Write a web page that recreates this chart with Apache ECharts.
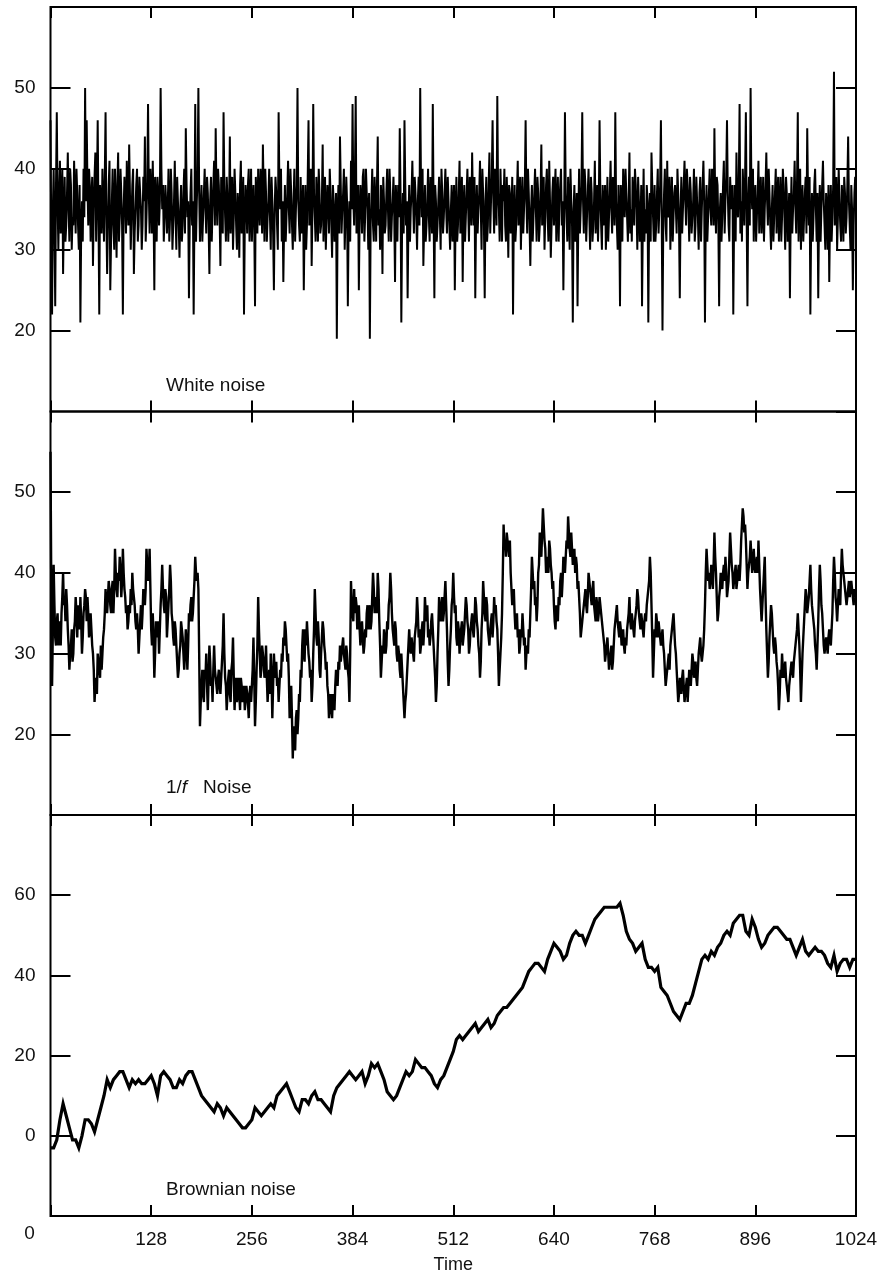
<!DOCTYPE html>
<html>
<head>
<meta charset="utf-8">
<script src="https://cdn.jsdelivr.net/npm/echarts/dist/echarts.min.js"></script>
<style>
  html, body { margin: 0; padding: 0; background: #fff; }
  #chart { width: 883px; height: 1275px; }
</style>
</head>
<body>
<div id="chart"></div>
<script>
// Sample spacing (time units) of each series
const whiteStep = 1;
const pinkStep = 1;
const brownStep = 4;

// White noise, t = 0 .. 1023
const whiteNoise = [
  46,31,22,35,40,33,23,38,47,36,30,37,41,32,36,40,27,34,39,31,33,37,42,35,31,40,38,30,34,33,41,36,32,40,37,33,30,38,21,32,36,31,40,34,50,36,46,38,33,40,38,31,36,39,28,35,39,42,31,37,46,34,22,38,
  35,32,40,36,31,39,47,34,27,33,38,41,25,31,36,40,33,30,40,35,29,38,42,31,34,40,37,33,22,35,39,36,32,41,36,33,43,37,30,34,38,40,27,32,35,38,40,31,33,39,37,35,30,33,39,36,44,31,34,38,48,37,32,40,
  37,32,41,35,25,39,36,31,39,37,33,36,50,40,35,38,31,34,38,36,32,35,40,31,34,40,37,30,33,36,41,34,30,39,36,33,29,35,38,31,33,37,40,32,45,38,34,36,24,33,37,40,33,36,22,34,48,31,36,39,50,37,31,35,
  38,31,34,37,40,35,32,39,37,33,27,36,39,31,35,38,41,33,45,37,33,40,38,34,28,39,36,32,47,38,34,31,39,36,31,35,44,32,36,39,30,34,40,37,33,30,37,35,29,38,41,32,34,39,22,33,38,36,32,38,40,31,35,40,
  31,35,38,33,23,39,36,32,40,36,33,40,38,32,43,37,31,40,37,31,34,36,40,34,30,39,36,32,25,35,39,37,33,30,47,38,35,40,31,36,26,33,38,31,34,37,41,35,32,40,37,33,30,36,40,31,35,38,50,36,33,31,39,32,
  34,38,25,33,38,30,33,39,46,33,36,40,28,35,48,37,34,31,39,35,31,40,37,32,33,36,43,31,35,39,30,34,38,36,32,40,37,33,29,38,36,31,33,37,19,34,38,32,44,38,32,35,37,40,30,34,39,36,23,33,36,31,41,35,
  48,36,33,39,49,32,35,38,25,34,38,36,32,39,40,31,34,40,37,35,30,37,19,33,36,40,33,31,39,36,31,38,44,33,35,30,38,36,27,39,36,32,33,37,40,35,31,40,37,31,34,36,39,34,26,38,35,31,38,34,45,37,21,33,
  37,32,46,38,33,36,24,33,38,31,35,37,41,36,32,39,37,34,30,36,39,33,50,38,34,40,28,33,38,31,33,36,40,34,31,39,36,32,48,35,24,38,36,31,33,36,39,34,30,40,37,32,34,37,40,35,32,39,36,33,30,35,38,31,
  35,38,25,34,39,31,33,37,41,32,36,39,26,35,38,31,34,37,40,35,31,39,37,33,42,36,33,39,24,34,38,32,35,37,41,35,30,40,37,33,24,36,39,31,33,38,42,32,36,39,46,36,32,40,38,33,49,37,35,31,40,36,31,38,
  36,40,33,31,39,35,29,38,37,32,34,39,22,34,38,31,33,37,41,33,36,39,30,35,39,32,35,38,46,36,32,40,37,33,28,35,38,31,34,37,40,35,31,39,37,31,33,37,43,33,35,39,30,34,38,40,34,31,41,36,29,33,37,39,
  33,37,40,31,35,39,31,36,38,40,33,36,25,34,47,37,34,31,39,35,30,40,36,33,21,35,38,31,33,37,23,34,40,32,35,38,47,36,32,40,38,31,34,37,40,34,30,39,37,31,33,36,41,32,35,38,31,35,46,37,33,30,38,33,
  35,38,30,34,39,31,34,37,41,35,32,39,37,33,47,36,33,30,38,34,23,38,36,31,40,37,34,40,37,34,31,36,42,32,35,31,39,36,33,40,38,35,30,39,36,31,33,38,23,33,40,31,35,32,38,36,21,34,37,31,42,38,34,31,
  38,31,33,37,40,32,35,38,46,34,20,33,37,40,33,31,41,34,36,39,30,35,39,31,34,37,38,35,32,40,37,33,24,35,39,32,35,38,41,36,33,40,38,35,31,39,37,32,34,36,40,31,33,39,36,34,30,37,39,31,35,38,41,36,
  21,34,38,31,34,37,40,35,33,40,37,33,45,36,32,39,38,33,23,35,37,31,34,38,41,32,36,39,46,37,33,31,39,36,35,38,22,33,38,31,42,36,34,38,48,32,36,31,40,37,33,39,47,34,23,36,39,33,50,38,35,40,31,36,
  38,31,34,37,41,32,36,39,32,35,39,31,35,38,42,36,33,40,37,33,30,35,38,31,34,37,40,32,36,39,31,35,39,31,34,40,38,34,30,39,37,31,33,37,24,34,39,32,35,37,41,35,32,38,47,31,36,40,30,35,38,31,34,37,
  39,32,45,37,33,39,22,33,37,31,34,38,40,35,31,37,24,34,38,31,35,38,41,36,33,30,37,35,30,38,26,34,38,31,34,38,52,33,36,39,30,34,40,36,33,31,38,35,31,39,37,32,34,38,44,36,33,30,38,35,25,33,37,39
];

// 1/f noise, t = 0 .. 1023
const pinkNoise = [
  55,38,26,33,41,36,32,31,34,35,31,33,34,31,35,37,40,36,37,34,38,36,33,31,28,30,31,33,29,30,33,34,37,35,32,36,34,33,37,34,30,32,35,36,38,37,34,37,35,32,33,35,33,31,30,28,24,26,27,25,30,29,28,27,
  31,28,30,32,33,35,38,36,35,37,39,38,36,35,38,39,35,38,43,40,38,37,40,39,42,40,37,39,43,40,38,37,35,36,33,34,36,35,38,36,40,38,37,36,34,33,35,33,30,32,34,36,33,35,38,37,36,38,43,41,39,40,43,38,
  33,31,35,32,27,30,34,33,32,34,30,33,36,38,41,38,36,35,38,37,32,34,36,38,41,39,35,34,32,31,34,33,31,29,27,28,30,31,34,33,32,30,28,30,33,31,28,31,35,34,36,37,34,35,37,39,42,40,39,40,38,30,21,24,
  26,28,25,24,28,27,30,26,23,27,31,29,26,27,24,28,31,28,27,26,25,27,28,26,25,27,29,31,35,30,27,26,23,25,27,28,25,24,28,29,32,27,23,26,27,24,25,27,25,23,27,26,24,25,26,23,24,26,25,24,22,25,26,24,
  26,28,32,27,21,24,28,31,37,33,30,27,28,31,30,29,27,28,31,27,24,26,28,25,30,27,22,26,30,28,27,29,26,27,24,26,28,27,30,29,32,31,34,33,31,29,30,27,22,24,26,22,17,21,19,18,22,23,20,22,25,24,28,27,
  31,33,30,29,33,31,34,32,30,29,27,28,24,26,30,33,38,35,32,31,34,32,28,27,30,32,34,33,31,30,28,29,26,25,22,24,25,23,22,25,24,23,26,28,27,26,29,28,31,29,30,31,32,30,29,28,31,30,28,27,24,30,39,36,
  35,34,38,35,37,36,33,34,36,33,31,33,34,32,30,31,33,32,35,36,33,34,36,33,34,37,40,38,35,36,37,35,40,38,34,31,27,29,31,30,33,32,30,31,34,33,36,37,40,38,35,33,32,31,34,33,30,29,31,30,28,27,30,28,
  26,24,22,24,25,27,29,31,33,31,30,32,31,30,29,32,33,34,37,35,32,33,30,31,33,34,31,33,37,35,34,36,32,33,31,32,34,35,33,31,29,27,24,26,30,33,37,35,34,36,37,34,35,37,39,36,33,29,26,28,31,33,36,37,
  40,37,35,36,32,31,34,33,30,32,33,34,31,32,33,35,37,36,34,33,30,31,33,34,35,33,32,34,37,36,34,33,31,30,27,29,33,35,39,37,35,34,37,36,33,32,31,33,34,35,32,34,37,35,36,34,33,30,26,28,30,32,35,40,
  46,43,44,42,45,44,43,42,44,40,38,36,37,38,35,33,34,35,32,33,30,31,33,32,35,33,31,32,28,30,31,30,33,32,35,38,42,40,38,39,36,37,34,36,40,41,45,43,42,45,48,46,44,43,40,41,42,40,44,43,41,40,38,39,
  36,34,33,36,35,34,37,36,39,40,37,39,42,41,40,42,44,43,47,45,43,42,45,43,41,42,43,40,42,41,38,39,37,35,32,33,34,35,36,37,38,36,35,37,40,39,38,37,36,38,39,36,35,34,37,36,34,35,37,36,35,34,33,32,
  31,29,30,31,32,30,28,29,30,31,28,29,31,33,34,35,36,34,33,32,34,33,31,32,33,31,30,32,31,33,34,35,37,34,33,35,34,33,32,34,35,36,38,37,35,34,33,35,34,33,32,34,35,34,36,37,38,39,42,40,36,32,27,30,
  33,32,35,34,32,34,33,32,31,32,33,31,30,28,26,27,28,29,30,28,31,32,33,34,35,33,31,30,28,26,24,25,27,26,25,27,28,26,24,25,26,27,24,26,28,27,26,28,30,29,27,28,29,27,26,28,30,31,32,30,29,30,31,33,
  36,40,43,41,39,40,38,39,41,40,38,41,45,42,40,37,34,35,37,38,40,39,38,40,41,39,42,40,37,38,39,42,45,43,41,40,38,39,40,41,38,39,40,41,39,41,44,46,48,47,45,46,44,41,38,40,41,42,44,42,40,41,43,41,
  40,41,42,40,44,41,38,36,34,36,38,40,42,37,33,30,27,29,32,34,36,35,33,31,30,32,31,29,28,26,23,25,28,27,30,28,27,28,29,27,26,25,24,26,27,28,29,28,27,29,30,31,32,33,35,33,31,28,24,27,30,32,34,36,
  38,37,35,36,37,39,41,38,36,35,34,33,31,30,28,31,34,38,41,39,36,35,33,31,30,31,32,31,30,32,33,32,31,33,35,39,42,40,37,36,34,36,38,37,36,40,43,41,40,39,38,37,36,37,38,39,37,38,39,38,37,36,38,37
];

// Brownian noise, t = 0, 4, 8, ... 1024
const brownNoise = [
  -3,-3,-1,4,8,5,2,-1,-1,-3,0,4,4,3,1,4,
  7,10,14,12,14,15,16,16,14,12,14,13,14,13,13,14,
  15,13,10,15,16,15,14,12,12,14,13,15,16,16,14,12,
  10,9,8,7,6,8,7,5,7,6,5,4,3,2,2,3,
  4,7,6,5,6,7,8,7,10,11,12,13,11,9,7,6,
  9,9,8,10,11,9,9,8,7,6,10,12,13,14,15,16,
  15,14,15,16,13,15,18,17,18,16,14,11,10,9,10,12,
  14,16,15,16,19,18,17,17,16,15,13,12,14,15,17,19,
  21,24,25,24,25,26,27,28,26,27,28,29,27,28,30,31,
  32,32,33,34,35,36,37,39,41,42,43,43,42,41,44,46,
  48,47,46,44,45,48,50,51,50,50,48,50,52,54,55,56,
  57,57,57,57,57,58,55,51,49,48,46,47,48,44,42,42,
  41,42,37,36,35,33,31,30,29,31,33,33,35,38,41,44,
  45,44,46,45,47,48,50,51,50,53,54,55,55,51,50,54,
  52,49,47,48,50,51,52,52,51,50,49,49,47,45,47,49,
  46,45,46,47,46,46,45,43,42,45,41,43,44,44,42,44,
  44
];

const panelTitles = ['White noise', '1/f Noise', 'Brownian noise'];
const timeAxisName = 'Time';

const FONT = "'Liberation Sans', Arial, Helvetica, sans-serif";
const INK = '#000';

function pairs(values, step) {
  return values.map((v, i) => [i * step, v]);
}

const panels = [
  { top: 7,     height: 404.5, min: 10,  max: 60, interval: 10, data: pairs(whiteNoise, whiteStep), width: 2 },
  { top: 411.5, height: 403.5, min: 10,  max: 60, interval: 10, data: pairs(pinkNoise, pinkStep),   width: 2.4 },
  { top: 815,   height: 403,   min: -20, max: 80, interval: 20, data: pairs(brownNoise, brownStep), width: 3.2 }
];

const grid = [], xAxis = [], yAxis = [], series = [];

panels.forEach((p, i) => {
  grid.push({
    left: 50.5, width: 805.5, top: p.top, height: p.height,
    show: true, borderColor: INK, borderWidth: 2, backgroundColor: 'transparent'
  });
  const isLast = i === panels.length - 1;
  ['bottom', 'top'].forEach(pos => {
    xAxis.push({
      gridIndex: i, type: 'value', position: pos,
      min: 0, max: 1024, interval: 128,
      axisLine: { show: false, onZero: false },
      splitLine: { show: false },
      axisTick: { show: true, inside: true, length: 11, lineStyle: { color: INK, width: 2 } },
      axisLabel: {
        show: isLast && pos === 'bottom',
        margin: 14,
        color: '#111', fontFamily: FONT, fontSize: 19,
        showMinLabel: true, showMaxLabel: true,
        formatter: v => (v === 0 ? '{z|0}' : String(v)),
        rich: { z: { fontFamily: FONT, fontSize: 19, color: '#111', padding: [0, 42, 0, 0], lineHeight: 7 } }
      },
      name: isLast && pos === 'bottom' ? timeAxisName : '',
      nameLocation: 'middle', nameGap: 40,
      nameTextStyle: { color: '#111', fontFamily: FONT, fontSize: 18 }
    });
  });
  ['left', 'right'].forEach(pos => {
    yAxis.push({
      gridIndex: i, type: 'value', position: pos,
      min: p.min, max: p.max, interval: p.interval,
      axisLine: { show: false, onZero: false },
      splitLine: { show: false },
      axisTick: { show: true, inside: true, length: 20, lineStyle: { color: INK, width: 2 } },
      axisLabel: {
        show: pos === 'left', margin: 15,
        showMinLabel: false, showMaxLabel: false,
        color: '#111', fontFamily: FONT, fontSize: 19
      }
    });
  });
  series.push({
    type: 'line', xAxisIndex: i * 2, yAxisIndex: i * 2,
    data: p.data, showSymbol: false, symbol: 'none',
    lineStyle: { color: INK, width: p.width, join: 'miter' },
    silent: true
  });
});

const titleY = [386, 788, 1190];
const graphic = panelTitles.map((t, i) => {
  const rich = i === 1
    ? '{a|1/}{b|f}{a|   Noise}'
    : '{a|' + t + '}';
  return {
    type: 'text', x: 166, y: titleY[i], silent: true,
    style: {
      text: rich,
      verticalAlign: 'middle', align: 'left',
      rich: {
        a: { fontFamily: FONT, fontSize: 19, fill: '#111' },
        b: { fontFamily: FONT, fontSize: 19, fontStyle: 'italic', fill: '#111' }
      }
    }
  };
});

const chart = echarts.init(document.getElementById('chart'), null, { renderer: 'canvas' });
chart.setOption({
  backgroundColor: '#fff',
  animation: false,
  grid, xAxis, yAxis, series, graphic
});
</script>
</body>
</html>
